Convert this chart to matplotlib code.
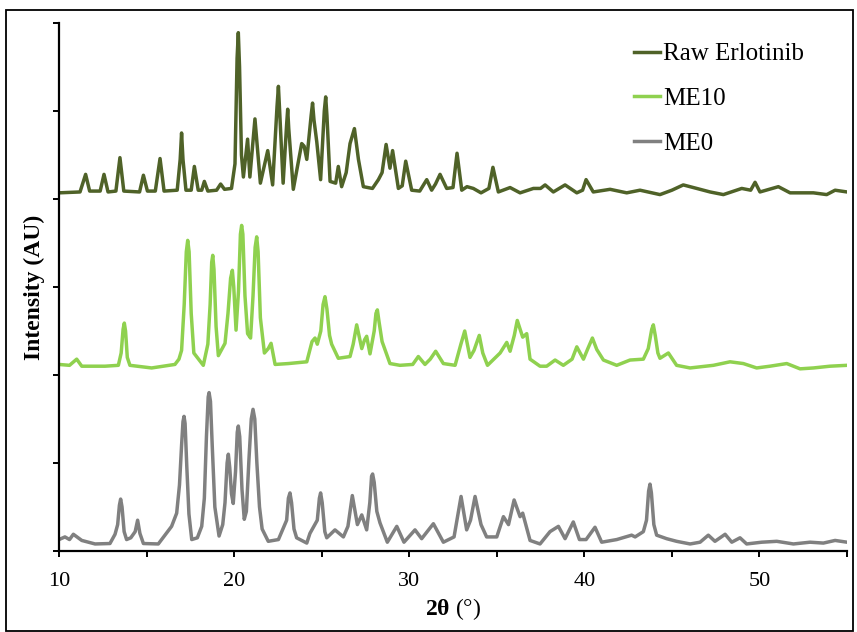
import matplotlib
matplotlib.use("Agg")
import matplotlib.pyplot as plt
from matplotlib.patches import Rectangle

plt.rcParams["font.family"] = ["Liberation Serif", "DejaVu Serif"]
plt.rcParams["mathtext.fontset"] = "custom"
plt.rcParams["mathtext.rm"] = "Liberation Serif"
plt.rcParams["mathtext.bf"] = "Liberation Serif:bold"
plt.rcParams["mathtext.it"] = "Liberation Serif:italic"

# Traced XRD patterns (2theta in degrees, stacked intensity in arbitrary units)
raw_x = [10.0, 11.2, 11.52, 11.75, 12.35, 12.57, 12.8, 13.25, 13.48, 13.7,
         14.6, 14.82, 15.05, 15.5, 15.77, 16.0, 16.75, 16.92, 17.0, 17.08,
         17.25, 17.55, 17.73, 17.95, 18.15, 18.3, 18.5, 19.0, 19.23, 19.45,
         19.85, 20.05, 20.17, 20.24, 20.31, 20.42, 20.53, 20.77, 20.9, 21.19,
         21.5, 21.92, 22.2, 22.45, 22.53, 22.6, 22.8, 23.0, 23.06, 23.12,
         23.38, 23.6, 23.86, 24.0, 24.15, 24.4, 24.48, 24.56, 24.72, 24.94,
         25.15, 25.23, 25.3, 25.48, 25.8, 25.95, 26.14, 26.4, 26.62, 26.87,
         27.1, 27.38, 27.9, 28.24, 28.45, 28.68, 28.9, 29.05, 29.38, 29.6,
         29.8, 30.14, 30.6, 31.0, 31.28, 31.5, 31.76, 32.14, 32.5, 32.73,
         33.0, 33.3, 33.66, 34.1, 34.55, 34.78, 35.09, 35.76, 36.33, 37.09,
         37.5, 37.76, 38.23, 38.9, 39.57, 39.9, 40.1, 40.51, 41.47, 42.42,
         43.18, 44.32, 45.0, 45.65, 46.42, 47.18, 47.94, 48.99, 49.5, 49.75,
         50.03, 51.08, 51.75, 53.08, 53.84, 54.32, 55.0]
raw_y = [4.07, 4.08, 4.28, 4.09, 4.09, 4.28, 4.08, 4.09, 4.47, 4.09,
         4.08, 4.27, 4.09, 4.09, 4.46, 4.09, 4.10, 4.45, 4.75, 4.45,
         4.10, 4.10, 4.37, 4.10, 4.10, 4.20, 4.09, 4.10, 4.17, 4.11,
         4.12, 4.40, 5.60, 5.89, 5.50, 4.50, 4.25, 4.68, 4.25, 4.91,
         4.18, 4.55, 4.16, 5.05, 5.28, 5.00, 4.18, 4.85, 5.02, 4.80,
         4.11, 4.35, 4.63, 4.60, 4.45, 4.95, 5.09, 4.90, 4.65, 4.22,
         5.00, 5.16, 4.95, 4.20, 4.18, 4.37, 4.14, 4.30, 4.63, 4.80,
         4.45, 4.14, 4.12, 4.22, 4.30, 4.62, 4.35, 4.55, 4.12, 4.15,
         4.43, 4.10, 4.09, 4.22, 4.10, 4.17, 4.28, 4.12, 4.13, 4.52,
         4.10, 4.14, 4.12, 4.07, 4.12, 4.36, 4.08, 4.13, 4.07, 4.12,
         4.12, 4.16, 4.08, 4.16, 4.07, 4.10, 4.22, 4.08, 4.11, 4.07,
         4.10, 4.05, 4.10, 4.16, 4.12, 4.08, 4.05, 4.12, 4.10, 4.19,
         4.08, 4.14, 4.07, 4.07, 4.05, 4.10, 4.08]

me10_x = [10.0, 10.6, 11.01, 11.3, 12.63, 13.39, 13.55, 13.66, 13.73, 13.8,
          13.9, 14.05, 15.29, 16.62, 16.85, 17.0, 17.15, 17.27, 17.35, 17.43,
          17.55, 17.7, 18.24, 18.5, 18.63, 18.72, 18.78, 18.85, 18.97, 19.1,
          19.48, 19.65, 19.8, 19.9, 19.98, 20.11, 20.25, 20.36, 20.43, 20.5,
          20.62, 20.77, 20.94, 21.08, 21.2, 21.29, 21.37, 21.5, 21.73, 21.95,
          22.11, 22.34, 23.1, 24.15, 24.45, 24.62, 24.75, 24.95, 25.08, 25.19,
          25.3, 25.45, 25.57, 25.95, 26.62, 26.8, 27.0, 27.29, 27.45, 27.57,
          27.76, 28.0, 28.1, 28.18, 28.28, 28.45, 28.9, 29.47, 30.2, 30.52,
          30.9, 31.2, 31.51, 31.95, 32.62, 32.95, 33.17, 33.47, 33.7, 34.0,
          34.2, 34.47, 35.19, 35.57, 35.76, 36.0, 36.17, 36.48, 36.71, 36.9,
          37.47, 37.85, 38.33, 38.8, 39.3, 39.57, 39.95, 40.2, 40.46, 40.71,
          41.09, 41.85, 42.61, 43.37, 43.65, 43.85, 43.94, 44.05, 44.2, 44.32,
          44.8, 45.27, 46.04, 47.37, 48.32, 49.08, 49.84, 50.6, 51.56, 52.32,
          53.08, 54.03, 55.0]
me10_y = [2.12, 2.11, 2.18, 2.10, 2.10, 2.11, 2.25, 2.52, 2.59, 2.50,
          2.20, 2.11, 2.08, 2.12, 2.18, 2.28, 2.80, 3.40, 3.53, 3.40,
          2.70, 2.25, 2.11, 2.35, 2.80, 3.28, 3.36, 3.20, 2.55, 2.22,
          2.36, 2.70, 3.10, 3.19, 3.00, 2.51, 2.95, 3.60, 3.70, 3.60,
          2.90, 2.47, 2.42, 2.90, 3.45, 3.57, 3.40, 2.65, 2.25, 2.30,
          2.36, 2.12, 2.13, 2.15, 2.38, 2.42, 2.35, 2.50, 2.80, 2.89,
          2.75, 2.45, 2.35, 2.19, 2.21, 2.35, 2.57, 2.30, 2.40, 2.44,
          2.24, 2.50, 2.70, 2.74, 2.60, 2.38, 2.13, 2.11, 2.12, 2.21,
          2.12, 2.18, 2.27, 2.13, 2.11, 2.35, 2.50, 2.20, 2.28, 2.45,
          2.25, 2.11, 2.25, 2.37, 2.27, 2.45, 2.62, 2.43, 2.47, 2.18,
          2.10, 2.10, 2.17, 2.11, 2.18, 2.32, 2.18, 2.30, 2.42, 2.29,
          2.17, 2.11, 2.17, 2.18, 2.30, 2.52, 2.57, 2.45, 2.25, 2.19,
          2.25, 2.11, 2.08, 2.11, 2.15, 2.13, 2.08, 2.10, 2.13, 2.07,
          2.08, 2.10, 2.11]

me0_x = [10.0, 10.34, 10.6, 10.82, 11.3, 12.06, 12.91, 13.2, 13.35, 13.45,
         13.52, 13.6, 13.72, 13.86, 14.1, 14.35, 14.49, 14.62, 14.82, 15.67,
         16.43, 16.72, 16.88, 17.0, 17.08, 17.14, 17.2, 17.3, 17.42, 17.58,
         17.9, 18.15, 18.3, 18.42, 18.52, 18.57, 18.65, 18.75, 18.9, 19.14,
         19.35, 19.48, 19.6, 19.67, 19.75, 19.85, 19.95, 20.08, 20.18, 20.24,
         20.32, 20.45, 20.58, 20.7, 20.85, 20.98, 21.08, 21.18, 21.3, 21.45,
         21.6, 21.95, 22.53, 23.0, 23.1, 23.19, 23.28, 23.42, 23.57, 24.15,
         24.33, 24.75, 24.87, 24.94, 25.03, 25.18, 25.29, 25.76, 26.24, 26.5,
         26.75, 27.04, 27.29, 27.57, 27.75, 27.85, 27.91, 28.0, 28.15, 28.33,
         28.75, 29.29, 29.7, 30.33, 30.71, 31.38, 31.95, 32.56, 32.96, 33.28,
         33.5, 33.76, 34.1, 34.42, 35.0, 35.38, 35.67, 35.99, 36.33, 36.48,
         36.9, 37.47, 38.04, 38.52, 38.9, 39.37, 39.72, 40.1, 40.61, 40.99,
         41.85, 42.7, 42.9, 43.37, 43.55, 43.67, 43.75, 43.83, 43.97, 44.13,
         44.7, 45.27, 46.04, 46.61, 47.08, 47.46, 48.04, 48.42, 48.89, 49.27,
         50.13, 50.99, 51.94, 52.89, 53.65, 54.32, 55.0]
me0_y = [0.13, 0.16, 0.13, 0.19, 0.12, 0.08, 0.085, 0.19, 0.30, 0.52,
         0.59, 0.50, 0.22, 0.13, 0.15, 0.22, 0.35, 0.20, 0.085, 0.08,
         0.28, 0.43, 0.75, 1.20, 1.47, 1.53, 1.45, 0.95, 0.42, 0.13,
         0.15, 0.28, 0.60, 1.30, 1.75, 1.80, 1.70, 1.20, 0.50, 0.17,
         0.30, 0.55, 1.00, 1.10, 0.95, 0.65, 0.54, 0.90, 1.35, 1.42,
         1.30, 0.70, 0.36, 0.45, 1.05, 1.50, 1.61, 1.50, 1.00, 0.50,
         0.25, 0.11, 0.13, 0.35, 0.60, 0.66, 0.55, 0.25, 0.15, 0.09,
         0.20, 0.35, 0.60, 0.66, 0.55, 0.22, 0.15, 0.24, 0.16, 0.28,
         0.63, 0.30, 0.41, 0.24, 0.55, 0.85, 0.875, 0.78, 0.45, 0.32,
         0.10, 0.28, 0.10, 0.24, 0.14, 0.31, 0.10, 0.16, 0.62, 0.24,
         0.35, 0.62, 0.30, 0.16, 0.16, 0.39, 0.30, 0.58, 0.39, 0.43,
         0.12, 0.08, 0.22, 0.28, 0.14, 0.33, 0.13, 0.13, 0.27, 0.10,
         0.13, 0.18, 0.16, 0.22, 0.35, 0.68, 0.76, 0.66, 0.30, 0.18,
         0.14, 0.11, 0.08, 0.10, 0.18, 0.11, 0.19, 0.10, 0.15, 0.08,
         0.10, 0.11, 0.08, 0.10, 0.09, 0.12, 0.10]

labels = ["Raw Erlotinib", "ME10", "ME0"]
colors = ["#4f6228", "#8fd14f", "#808080"]
x_major = [10, 20, 30, 40, 50]
x_minor = [15, 25, 35, 45, 55]

W, H = 857, 632
fig = plt.figure(figsize=(W / 100, H / 100), dpi=100)
ax = fig.add_axes([59 / W, 1 - 551 / H, (847 - 59) / W, (551 - 23) / H])

for xs, ys, lab, col in zip([raw_x, me10_x, me0_x], [raw_y, me10_y, me0_y],
                            labels, colors):
    ax.plot(xs, ys, color=col, lw=2.5, label=lab, solid_joinstyle="round")

ax.set_xlim(10, 55)
ax.set_ylim(0, 6)
ax.set_xticks(x_major)
ax.set_xticks(x_minor, minor=True)
ax.set_yticks(range(7))
ax.tick_params(axis="both", which="both", direction="out", length=4,
               width=1.4, labelsize=16, pad=11)
ax.tick_params(axis="y", labelleft=False)
for side in ["top", "right"]:
    ax.spines[side].set_visible(False)
for side in ["left", "bottom"]:
    ax.spines[side].set_linewidth(1.6)

ax.set_xlabel(r"$\mathbf{2θ}$ (°)", fontsize=17, labelpad=4)
ax.set_ylabel("Intensity (AU)", fontsize=17, fontweight="bold", labelpad=6)

ax.legend(loc="upper left", bbox_to_anchor=(634 / W, 1 - 43 / H),
          bbox_transform=fig.transFigure, frameon=False,
          prop={"family": "Liberation Serif", "size": 18},
          handlelength=1.05, handletextpad=0.1, borderpad=0,
          borderaxespad=0, labelspacing=0.88)

# thin black frame round the whole figure
fig.patches.append(Rectangle((6 / W, 1 / H), (853 - 6) / W, (622 - 1 + 0) / H,
                             transform=fig.transFigure, fill=False,
                             edgecolor="black", lw=1.3))

fig.savefig("out.png", dpi=100)
